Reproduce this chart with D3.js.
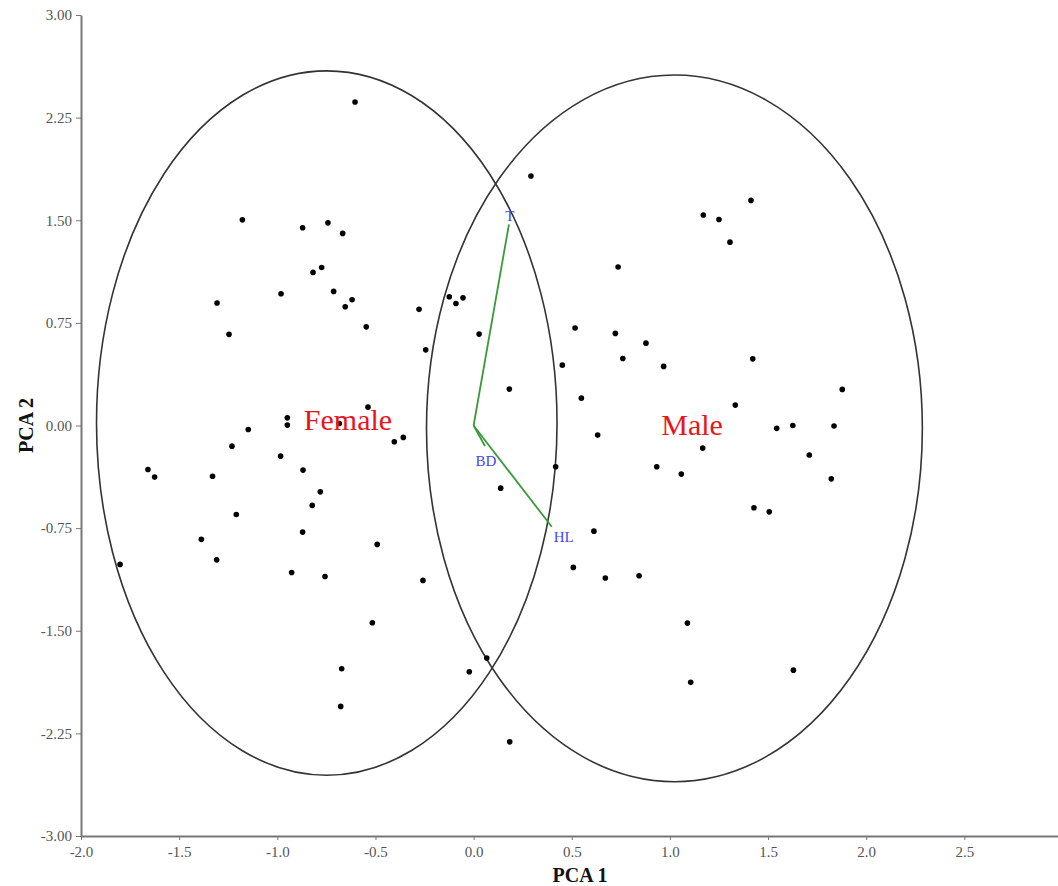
<!DOCTYPE html>
<html lang="en">
<head>
    <meta charset="UTF-8">
    <title>PCA biplot</title>
    <script src="https://d3js.org/d3.v7.min.js"></script>
    <style>
        body {
            margin: 0;
            background: #fff;
        }
        text {
            font-family: "Liberation Serif", "Times New Roman", serif;
        }
        .axis path, .axis line {
            stroke: #777;
        }
        .axis path {
            stroke-width: 2px;
        }
        .axis text {
            fill: #555;
            font-size: 15px;
        }
        .ellipse {
            fill: none;
            stroke: #333;
            stroke-width: 1.6px;
        }
        .vector {
            stroke: #3a9a3a;
            stroke-width: 1.8px;
        }
        .vector-label {
            fill: #4646f0;
            font-size: 15px;
            text-anchor: middle;
        }
        .group-label {
            fill: #e8161b;
            font-size: 30px;
            text-anchor: middle;
        }
        .axis-title {
            font-size: 20px;
            font-weight: bold;
            fill: #111;
        }
    </style>
</head>
<body>
    <svg id="chart"></svg>

    <script>
        // Scores (PCA 1, PCA 2)
        const pointX = [
            -0.604, 0.292, -1.178, -0.871, -0.742, -0.667, -1.307, -0.981, -0.818, -0.774,
            -0.713, -0.619, -0.654, -1.246, -0.547, -0.278, -0.124, -0.090, -0.054, 0.028,
            -0.244, 1.413, 1.170, 1.250, 1.306, 0.736, 0.517, 0.722, 0.878, 0.760,
            0.968, 0.452, 0.182, 0.549, 1.422, 1.333, 1.878, 1.167, 1.544, 1.626,
            1.836, 1.710, 0.632, 0.418, 0.933, 1.058, 1.822, 1.428, 1.506, 0.613,
            0.508, 0.671, 0.843, 1.089, 0.067, -0.022, 1.106, 1.629, 0.184, 0.138,
            -0.684, -0.538, -0.949, -0.949, -1.148, -1.231, -0.983, -0.869, -1.659, -1.625,
            -1.330, -0.781, -0.822, -1.209, -0.871, -1.387, -0.491, -1.309, -1.801, -0.927,
            -0.757, -0.258, -0.516, -0.672, -0.677, -0.404, -0.358
        ];
        const pointY = [
            2.364, 1.823, 1.503, 1.445, 1.481, 1.404, 0.895, 0.963, 1.119, 1.155,
            0.980, 0.919, 0.868, 0.666, 0.721, 0.849, 0.941, 0.892, 0.933, 0.668,
            0.553, 1.645, 1.538, 1.506, 1.340, 1.158, 0.712, 0.673, 0.602, 0.490,
            0.432, 0.441, 0.266, 0.200, 0.487, 0.149, 0.264, -0.165, -0.021, 0.000,
            -0.004, -0.216, -0.070, -0.302, -0.302, -0.355, -0.390, -0.601, -0.631, -0.772,
            -1.037, -1.115, -1.098, -1.444, -1.700, -1.800, -1.877, -1.788, -2.312, -0.458,
            0.015, 0.134, 0.056, 0.003, -0.029, -0.151, -0.224, -0.326, -0.322, -0.377,
            -0.371, -0.485, -0.584, -0.650, -0.779, -0.832, -0.869, -0.982, -1.015, -1.074,
            -1.103, -1.132, -1.442, -1.778, -2.053, -0.119, -0.087
        ];

        // Group ellipses
        const groups = ["Female", "Male"];
        const ellipseCx = [-0.748, 1.023];
        const ellipseCy = [0.018, -0.021];
        const ellipseRx = [1.173, 1.263];
        const ellipseRy = [2.574, 2.582];
        const groupLabelX = [-0.64, 1.113];
        const groupLabelY = [-0.03, -0.07];

        // Variable loadings
        const vectorNames = ["T", "BD", "HL"];
        const vectorX = [0.180, 0.058, 0.398];
        const vectorY = [1.470, -0.150, -0.740];

        // Axis ticks
        const xTicks = [-2.0, -1.5, -1.0, -0.5, 0.0, 0.5, 1.0, 1.5, 2.0, 2.5];
        const yTicks = [-3.00, -2.25, -1.50, -0.75, 0.00, 0.75, 1.50, 2.25, 3.00];

        const width = 1058, height = 886;
        const margin = {top: 15, right: 0, bottom: 50, left: 81};

        const svg = d3.select("#chart")
            .attr("width", width)
            .attr("height", height);

        const x = d3.scaleLinear()
            .domain([-2, 2.977])
            .range([margin.left, width - margin.right]);

        const y = d3.scaleLinear()
            .domain([-3, 3])
            .range([height - margin.bottom, margin.top]);

        // Axes
        svg.append("g")
            .attr("class", "axis")
            .attr("transform", `translate(0,${height - margin.bottom})`)
            .call(d3.axisBottom(x)
                .tickValues(xTicks)
                .tickSize(4)
                .tickSizeOuter(0)
                .tickFormat(d => d.toFixed(1)))
            .call(g => g.selectAll("text").attr("dy", "0.95em"));

        svg.append("g")
            .attr("class", "axis")
            .attr("transform", `translate(${margin.left},0)`)
            .call(d3.axisLeft(y)
                .tickValues(yTicks)
                .tickSize(5)
                .tickSizeOuter(0)
                .tickFormat(d => d.toFixed(2)))
            .call(g => g.selectAll("text").attr("x", -9));

        svg.append("text")
            .attr("class", "axis-title")
            .attr("x", 580)
            .attr("y", 882)
            .attr("text-anchor", "middle")
            .text("PCA 1");

        svg.append("text")
            .attr("class", "axis-title")
            .attr("transform", `translate(33,${(margin.top + height - margin.bottom) / 2}) rotate(-90)`)
            .attr("text-anchor", "middle")
            .text("PCA 2");

        // Ellipses
        svg.append("g")
            .selectAll("ellipse")
            .data(groups)
            .join("ellipse")
            .attr("class", "ellipse")
            .attr("cx", (d, i) => x(ellipseCx[i]))
            .attr("cy", (d, i) => y(ellipseCy[i]))
            .attr("rx", (d, i) => x(ellipseCx[i] + ellipseRx[i]) - x(ellipseCx[i]))
            .attr("ry", (d, i) => y(ellipseCy[i]) - y(ellipseCy[i] + ellipseRy[i]));

        // Points
        svg.append("g")
            .selectAll("circle")
            .data(pointX)
            .join("circle")
            .attr("cx", d => x(d))
            .attr("cy", (d, i) => y(pointY[i]))
            .attr("r", 2.8)
            .attr("fill", "#000");

        // Group labels
        svg.append("g")
            .selectAll("text")
            .data(groups)
            .join("text")
            .attr("class", "group-label")
            .attr("x", (d, i) => x(groupLabelX[i]))
            .attr("y", (d, i) => y(groupLabelY[i]))
            .text(d => d);

        // Loading vectors
        svg.append("g")
            .selectAll("line")
            .data(vectorNames)
            .join("line")
            .attr("class", "vector")
            .attr("x1", x(0))
            .attr("y1", y(0))
            .attr("x2", (d, i) => x(vectorX[i]))
            .attr("y2", (d, i) => y(vectorY[i]));

        const labelOffset = {T: [1, -3], BD: [1, 20], HL: [12, 15]};
        svg.append("g")
            .selectAll("text")
            .data(vectorNames)
            .join("text")
            .attr("class", "vector-label")
            .attr("x", (d, i) => x(vectorX[i]) + labelOffset[d][0])
            .attr("y", (d, i) => y(vectorY[i]) + labelOffset[d][1])
            .text(d => d);
    </script>
</body>
</html>
